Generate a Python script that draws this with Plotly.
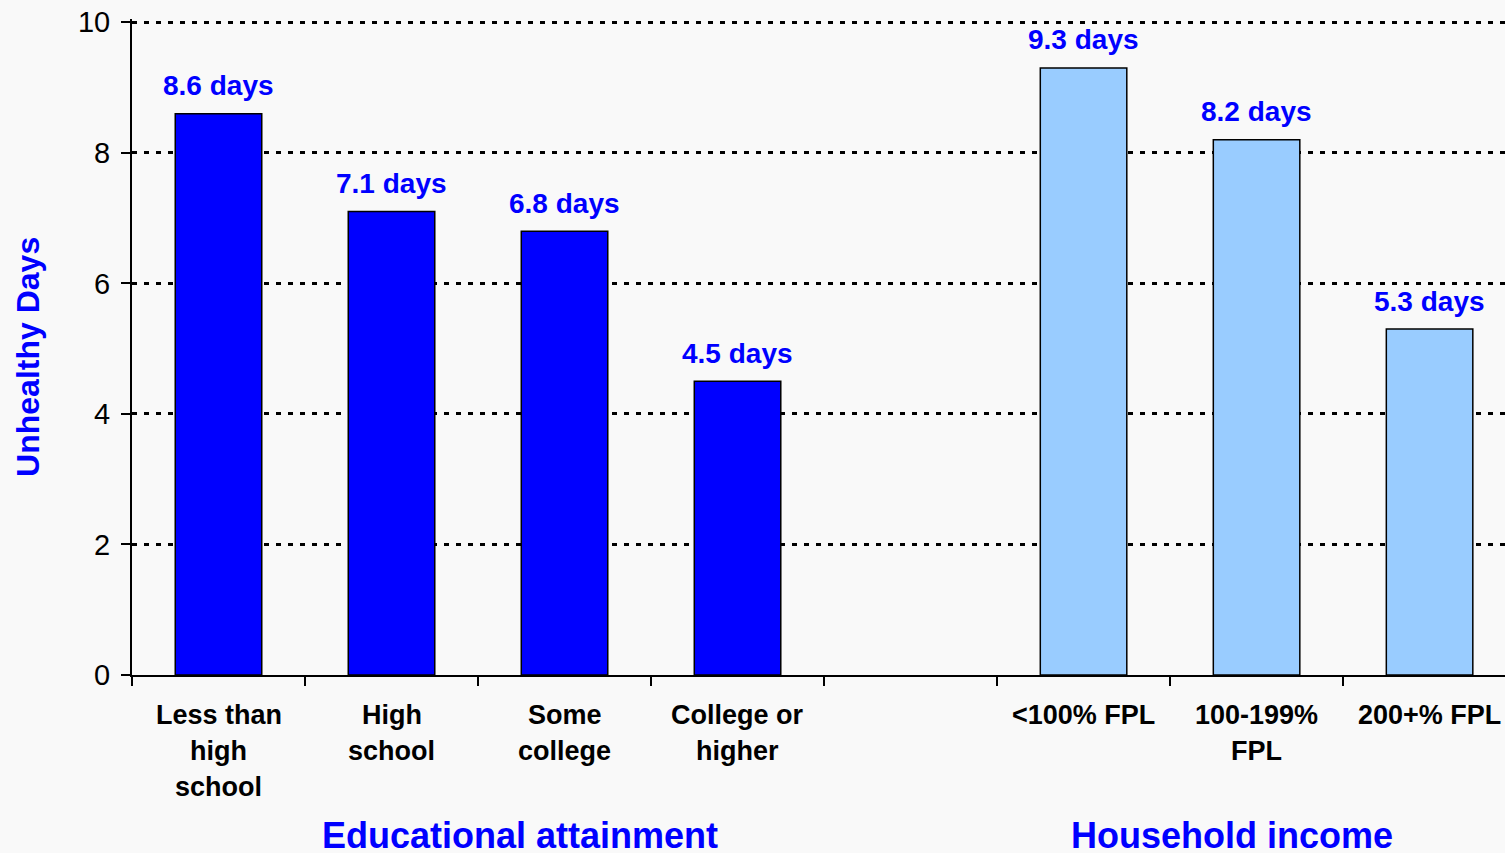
import plotly.graph_objects as go

# %% Data
edu_cats = ["Less than high school", "High school", "Some college", "College or higher"]
edu_vals = [8.6, 7.1, 6.8, 4.5]
inc_cats = ["<100% FPL", "100-199% FPL", "200+% FPL"]
inc_vals = [9.3, 8.2, 5.3]
gap_cat = " "

# wrapped tick labels, one list of lines per category
tick_lines = {
    "Less than high school": ["Less than", "high", "school"],
    "High school": ["High", "school"],
    "Some college": ["Some", "college"],
    "College or higher": ["College or", "higher"],
    "<100% FPL": ["<100% FPL"],
    "100-199% FPL": ["100-199%", "FPL"],
    "200+% FPL": ["200+% FPL"],
}
group_titles = [("Educational attainment", 1.74), ("Household income", 5.86)]

FONT = "Liberation Sans, Arial, sans-serif"
BLUE = "#0000FF"
LIGHT = "#99CCFF"

# %% Figure
fig = go.Figure()
anns = []
for cats, vals, col in [(edu_cats, edu_vals, BLUE), (inc_cats, inc_vals, LIGHT)]:
    fig.add_trace(go.Bar(
        x=cats, y=vals, width=0.5,
        marker=dict(color=col, line=dict(color="black", width=1.5)),
        showlegend=False, hoverinfo="x+y",
    ))
    # value labels above the bars
    for c, v in zip(cats, vals):
        anns.append(dict(
            x=c, y=v, xref="x", yref="y", text=f"{v} days", showarrow=False,
            yanchor="middle", yshift=28,
            font=dict(family=FONT, size=28, color=BLUE, weight="bold"),
        ))

for cat, lines in tick_lines.items():
    for i, ln in enumerate(lines):
        anns.append(dict(
            x=cat, y=0, xref="x", yref="y", text=ln, showarrow=False,
            yanchor="middle", yshift=-40 - 36 * i,
            font=dict(family=FONT, size=27, color="black", weight="bold"),
        ))
for txt, xpos in group_titles:
    anns.append(dict(
        x=xpos, y=0, xref="x", yref="y", text=txt, showarrow=False,
        yanchor="middle", yshift=-160,
        font=dict(family=FONT, size=36, color=BLUE, weight="bold"),
    ))
anns.append(dict(
    x=-0.0757, y=0.485, xref="paper", yref="paper", text="Unhealthy Days",
    textangle=-90, showarrow=False, xanchor="center", yanchor="middle",
    font=dict(family=FONT, size=32, color=BLUE, weight="bold"),
))

fig.update_layout(
    width=1505, height=853,
    margin=dict(l=132, r=0, t=19, b=178),
    paper_bgcolor="#F9F9F9", plot_bgcolor="#F9F9F9",
    barmode="overlay",
    annotations=anns,
    font=dict(family=FONT),
)
fig.update_xaxes(
    type="category",
    categoryorder="array", categoryarray=edu_cats + [gap_cat] + inc_cats,
    range=[-0.5, 7.436],
    showticklabels=False, tickson="boundaries",
    ticks="outside", ticklen=9, tickwidth=2, tickcolor="black",
    showline=True, linecolor="black", linewidth=2,
    showgrid=False, zeroline=False,
)
fig.update_yaxes(
    range=[0, 10.05], tickvals=[0, 2, 4, 6, 8, 10],
    ticks="outside", ticklen=9, tickwidth=2, tickcolor="black",
    tickfont=dict(family=FONT, size=29, color="black"), ticklabelstandoff=5,
    showline=True, linecolor="black", linewidth=2,
    showgrid=True, gridcolor="black", gridwidth=2.5, griddash="5px,7px",
    zeroline=False,
)

fig.write_html("out.html", config={"displayModeBar": False},
               post_script="document.body.style.margin='0px';")
